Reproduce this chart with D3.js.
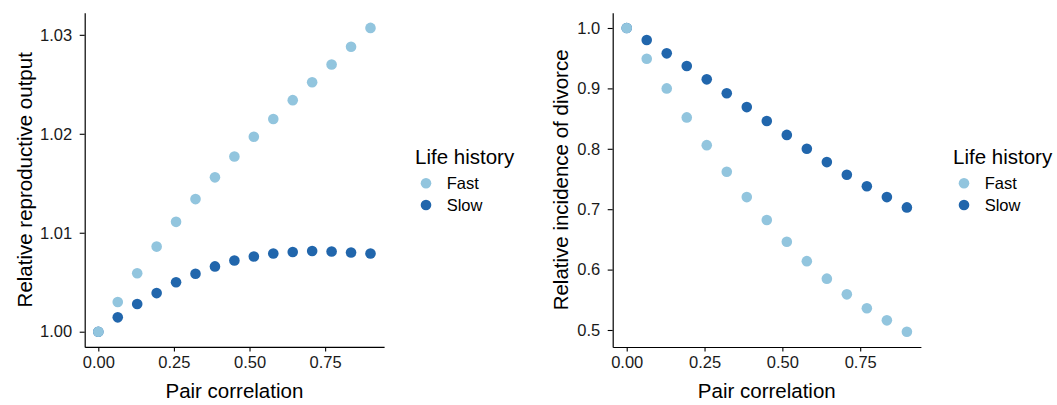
<!DOCTYPE html>
<html>
<head>
<meta charset="utf-8">
<script src="https://cdn.jsdelivr.net/npm/d3@7"></script>
<style>
  html, body { margin: 0; padding: 0; background: #ffffff; }
  svg { display: block; font-family: "Liberation Sans", Arial, Helvetica, sans-serif; }
</style>
</head>
<body>
<svg id="chart" width="1057" height="405"></svg>
<script>
// ---------------- data ----------------
const pairCorrelation = [0, 0.0643, 0.1286, 0.1929, 0.2571, 0.3214, 0.3857, 0.45,
                         0.5143, 0.5786, 0.6429, 0.7071, 0.7714, 0.8357, 0.9];

const outputFast = [1.0000, 1.0030, 1.0059, 1.0086, 1.0111, 1.0134, 1.0156, 1.0177,
                    1.0197, 1.0215, 1.0234, 1.0252, 1.0270, 1.0288, 1.0307];
const outputSlow = [1.0000, 1.00145, 1.0028, 1.0039, 1.0050, 1.00585, 1.0066, 1.0072,
                    1.0076, 1.0079, 1.00805, 1.00815, 1.0081, 1.0080, 1.0079];

const divorceFast = [1.000, 0.949, 0.900, 0.852, 0.806, 0.762, 0.720, 0.682,
                     0.646, 0.614, 0.585, 0.559, 0.536, 0.516, 0.497];
const divorceSlow = [1.000, 0.980, 0.958, 0.937, 0.915, 0.892, 0.869, 0.846,
                     0.823, 0.800, 0.778, 0.757, 0.738, 0.720, 0.703];

const lifeHistory = ["Fast", "Slow"];
const xTicks = [0, 0.25, 0.5, 0.75];
const outputTicks = [1.00, 1.01, 1.02, 1.03];
const divorceTicks = [0.5, 0.6, 0.7, 0.8, 0.9, 1.0];

const xTitle = "Pair correlation";
const outputTitle = "Relative reproductive output";
const divorceTitle = "Relative incidence of divorce";
const legendTitle = "Life history";

// ---------------- style ----------------
const colors = { Fast: "#92c5de", Slow: "#2166ac" };
const tickFont = 16.5, titleFont = 20.5;
const pointR = 5.3;

const svg = d3.select("#chart");

function expand(ext, mult) {
  const d = (ext[1] - ext[0]) * mult;
  return [ext[0] - d, ext[1] + d];
}

function panel(opts) {
  const { left, right, top, bottom, fast, slow, yTicks, yFmt, yTitle, yTitleX, legendX } = opts;
  const g = svg.append("g");

  const x = d3.scaleLinear()
    .domain(expand(d3.extent(pairCorrelation), 0.05))
    .range([left, right]);
  const y = d3.scaleLinear()
    .domain(expand(d3.extent(fast.concat(slow)), 0.05))
    .range([bottom, top]);

  // x axis
  const xAxis = g.append("g")
    .attr("transform", `translate(0,${bottom})`)
    .call(d3.axisBottom(x).tickValues(xTicks).tickFormat(d3.format(".2f"))
      .tickSize(4.5).tickSizeOuter(0).tickPadding(5));
  // y axis
  const yAxis = g.append("g")
    .attr("transform", `translate(${left},0)`)
    .call(d3.axisLeft(y).tickValues(yTicks).tickFormat(d3.format(yFmt))
      .tickSize(5).tickSizeOuter(0).tickPadding(7.5));

  [xAxis, yAxis].forEach(a => {
    a.selectAll(".domain").attr("stroke", "#000").attr("stroke-width", 1.2);
    a.selectAll(".tick line").attr("stroke", "#000").attr("stroke-width", 1.1);
    a.selectAll(".tick text").attr("fill", "#1a1a1a")
      .style("font-size", tickFont + "px")
      .style("font-family", '"Liberation Sans", Arial, sans-serif');
  });

  // points: slow first, then fast on top
  const series = [{ name: "Slow", vals: slow }, { name: "Fast", vals: fast }];
  series.forEach(s => {
    g.append("g").selectAll("circle")
      .data(s.vals)
      .join("circle")
      .attr("cx", (d, i) => x(pairCorrelation[i]))
      .attr("cy", d => y(d))
      .attr("r", pointR)
      .attr("fill", colors[s.name]);
  });

  // axis titles
  g.append("text")
    .attr("x", (left + right) / 2)
    .attr("y", 398)
    .attr("text-anchor", "middle")
    .style("font-size", titleFont + "px")
    .attr("fill", "#000")
    .text(xTitle);

  g.append("text")
    .attr("transform", `translate(${yTitleX},${(top + bottom) / 2}) rotate(-90)`)
    .attr("text-anchor", "middle")
    .style("font-size", titleFont + "px")
    .attr("fill", "#000")
    .text(yTitle);

  // legend
  const lg = g.append("g").attr("transform", `translate(${legendX},0)`);
  lg.append("text")
    .attr("x", 0).attr("y", 164)
    .style("font-size", titleFont + "px")
    .attr("fill", "#000")
    .text(legendTitle);
  lifeHistory.forEach((name, i) => {
    const cy = 183.3 + i * 21.7;
    lg.append("circle").attr("cx", 11).attr("cy", cy).attr("r", pointR).attr("fill", colors[name]);
    lg.append("text")
      .attr("x", 31.7).attr("y", cy + 5.9)
      .style("font-size", tickFont + "px")
      .attr("fill", "#000")
      .text(name);
  });
}

panel({
  left: 84.7, right: 384.1, top: 12.7, bottom: 346.9,
  fast: outputFast, slow: outputSlow,
  yTicks: outputTicks, yFmt: ".2f",
  yTitle: outputTitle, yTitleX: 31.5, legendX: 415
});

panel({
  left: 612.7, right: 920.9, top: 12.8, bottom: 347,
  fast: divorceFast, slow: divorceSlow,
  yTicks: divorceTicks, yFmt: ".1f",
  yTitle: divorceTitle, yTitleX: 568.3, legendX: 953
});
</script>
</body>
</html>
